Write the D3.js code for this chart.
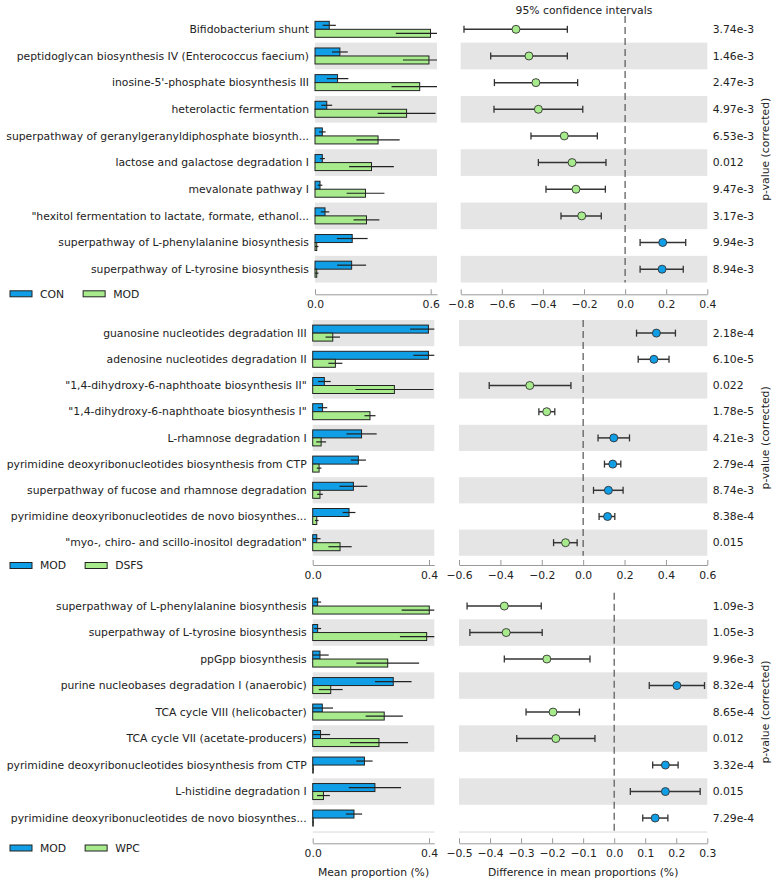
<!DOCTYPE html>
<html><head><meta charset="utf-8">
<script src="https://cdn.jsdelivr.net/npm/d3@7"></script>
<style>
body{margin:0;background:#fff;}
text{font-family:"DejaVu Sans",sans-serif;fill:#222;}
</style></head>
<body><svg id="chart" width="777" height="885"></svg>
<script>
// ---------- DATA ----------
// Panel 1: CON vs MOD
const p1Groups = ["CON", "MOD"];
const p1Pathways = ["Bifidobacterium shunt","peptidoglycan biosynthesis IV (Enterococcus faecium)","inosine-5'-phosphate biosynthesis III","heterolactic fermentation","superpathway of geranylgeranyldiphosphate biosynth...","lactose and galactose degradation I","mevalonate pathway I","\"hexitol fermentation to lactate, formate, ethanol...","superpathway of L-phenylalanine biosynthesis","superpathway of L-tyrosine biosynthesis"];
const p1Mean1 = [0.074,0.129,0.117,0.061,0.038,0.038,0.026,0.052,0.193,0.190];
const p1Sd1   = [0.034,0.041,0.056,0.028,0.017,0.013,0.012,0.022,0.080,0.075];
const p1Mean2 = [0.599,0.591,0.543,0.475,0.327,0.293,0.262,0.267,0.009,0.009];
const p1Sd2   = [0.180,0.135,0.146,0.150,0.112,0.116,0.098,0.067,0.009,0.009];
const p1Diff  = [-0.531,-0.468,-0.434,-0.422,-0.296,-0.258,-0.239,-0.211,0.183,0.180];
const p1CiLow = [-0.784,-0.654,-0.636,-0.638,-0.458,-0.422,-0.385,-0.312,0.073,0.073];
const p1CiHigh= [-0.281,-0.281,-0.231,-0.206,-0.135,-0.093,-0.096,-0.116,0.295,0.283];
const p1PValues = ["3.74e-3","1.46e-3","2.47e-3","4.97e-3","6.53e-3","0.012","9.47e-3","3.17e-3","9.94e-3","8.94e-3"];
const p1MeanTicks = [0.0, 0.6];
const p1DiffTicks = [-0.8,-0.6,-0.4,-0.2,0.0,0.2,0.4];

// Panel 2: MOD vs DSFS
const p2Groups = ["MOD", "DSFS"];
const p2Pathways = ["guanosine nucleotides degradation III","adenosine nucleotides degradation II","\"1,4-dihydroxy-6-naphthoate biosynthesis II\"","\"1,4-dihydroxy-6-naphthoate biosynthesis I\"","L-rhamnose degradation I","pyrimidine deoxyribonucleotides biosynthesis from CTP","superpathway of fucose and rhamnose degradation","pyrimidine deoxyribonucleotides de novo biosynthes...","\"myo-, chiro- and scillo-inositol degradation\""];
const p2Mean1 = [0.398,0.398,0.040,0.034,0.168,0.157,0.140,0.125,0.014];
const p2Sd1   = [0.063,0.052,0.022,0.016,0.052,0.026,0.048,0.022,0.013];
const p2Mean2 = [0.069,0.078,0.281,0.197,0.029,0.022,0.025,0.014,0.094];
const p2Sd2   = [0.025,0.024,0.134,0.019,0.017,0.008,0.010,0.006,0.040];
const p2Diff  = [0.354,0.342,-0.258,-0.176,0.148,0.143,0.122,0.118,-0.085];
const p2CiLow = [0.258,0.266,-0.454,-0.214,0.072,0.103,0.050,0.077,-0.143];
const p2CiHigh= [0.446,0.415,-0.059,-0.137,0.224,0.182,0.193,0.153,-0.029];
const p2PValues = ["2.18e-4","6.10e-5","0.022","1.78e-5","4.21e-3","2.79e-4","8.74e-3","8.38e-4","0.015"];
const p2MeanTicks = [0.0, 0.4];
const p2DiffTicks = [-0.6,-0.4,-0.2,0.0,0.2,0.4,0.6];

// Panel 3: MOD vs WPC
const p3Groups = ["MOD", "WPC"];
const p3Pathways = ["superpathway of L-phenylalanine biosynthesis","superpathway of L-tyrosine biosynthesis","ppGpp biosynthesis","purine nucleobases degradation I (anaerobic)","TCA cycle VIII (helicobacter)","TCA cycle VII (acetate-producers)","pyrimidine deoxyribonucleotides biosynthesis from CTP","L-histidine degradation I","pyrimidine deoxyribonucleotides de novo biosynthes..."];
const p3Mean1 = [0.017,0.017,0.025,0.277,0.033,0.027,0.178,0.214,0.142];
const p3Sd1   = [0.012,0.012,0.030,0.063,0.037,0.033,0.028,0.090,0.028];
const p3Mean2 = [0.401,0.392,0.258,0.062,0.246,0.228,0.002,0.037,0.002];
const p3Sd2   = [0.095,0.092,0.108,0.041,0.064,0.100,0.002,0.022,0.002];
const p3Diff  = [-0.354,-0.348,-0.217,0.202,-0.197,-0.188,0.165,0.165,0.132];
const p3CiLow = [-0.474,-0.465,-0.354,0.113,-0.284,-0.314,0.124,0.052,0.092];
const p3CiHigh= [-0.235,-0.232,-0.078,0.291,-0.112,-0.062,0.206,0.277,0.173];
const p3PValues = ["1.09e-3","1.05e-3","9.96e-3","8.32e-4","8.65e-4","0.012","3.32e-4","0.015","7.29e-4"];
const p3MeanTicks = [0.0, 0.4];
const p3DiffTicks = [-0.5,-0.4,-0.3,-0.2,-0.1,0.0,0.1,0.2,0.3];

const ciTitle = "95% confidence intervals";
const pLabel = "p-value (corrected)";
const meanLabel = "Mean proportion (%)";
const diffLabel = "Difference in mean proportions (%)";

// ---------- STYLE / LAYOUT ----------
const C1 = "#109ee6", C2 = "#a7eb8c", BAND = "#e5e5e5";
const FS = 10.8;
const svg = d3.select("#chart");

const panels = [
  {groups:p1Groups, names:p1Pathways, m1:p1Mean1, s1:p1Sd1, m2:p1Mean2, s2:p1Sd2, d:p1Diff, lo:p1CiLow, hi:p1CiHigh, p:p1PValues, mt:p1MeanTicks, dt:p1DiffTicks,
   top:16, pitch:26.65, axisY:294.3, lx0:315, lTick:430.7, lx1:437, cx0:460.7, cx1:707.3, parity:1, legY:293.8, xTitle:false},
  {groups:p2Groups, names:p2Pathways, m1:p2Mean1, s1:p2Sd1, m2:p2Mean2, s2:p2Sd2, d:p2Diff, lo:p2CiLow, hi:p2CiHigh, p:p2PValues, mt:p2MeanTicks, dt:p2DiffTicks,
   top:320, pitch:26.2, axisY:565, lx0:312.7, lTick:429, lx1:434.3, cx0:459, cx1:707.3, parity:0, legY:565.5, xTitle:false},
  {groups:p3Groups, names:p3Pathways, m1:p3Mean1, s1:p3Sd1, m2:p3Mean2, s2:p3Sd2, d:p3Diff, lo:p3CiLow, hi:p3CiHigh, p:p3PValues, mt:p3MeanTicks, dt:p3DiffTicks,
   top:592.8, pitch:26.5, axisY:843.3, lx0:312.7, lTick:429, lx1:434.3, cx0:459, cx1:707.3, parity:1, legY:848, xTitle:true, bottomLine:true},
];

panels.forEach((P, pi) => {
  const n = P.names.length;
  const g = svg.append("g");
  const y = d3.scaleBand().domain(d3.range(n)).range([P.top, P.top + n*P.pitch]).padding(0);
  const maxTick = P.mt[P.mt.length-1];
  const xl = d3.scaleLinear().domain([0, maxTick]).range([P.lx0, P.lTick]);
  const lMax = xl.invert(P.lx1);
  xl.domain([0, lMax]).range([P.lx0, P.lx1]).clamp(true);
  const xc = d3.scaleLinear().domain([P.dt[0], P.dt[P.dt.length-1]]).range([P.cx0, P.cx1]);

  // bands
  d3.range(n).forEach(i => {
    if (i % 2 === P.parity) {
      g.append("rect").attr("x", P.lx0).attr("y", y(i)).attr("width", P.lx1-P.lx0).attr("height", y.bandwidth()).attr("fill", BAND);
      g.append("rect").attr("x", P.cx0).attr("y", y(i)).attr("width", P.cx1-P.cx0).attr("height", y.bandwidth()).attr("fill", BAND);
    }
  });
  if (P.bottomLine) {
    g.append("rect").attr("x", P.lx0).attr("y", y(n-1)+y.bandwidth()).attr("width", P.lx1-P.lx0).attr("height", 1.5).attr("fill", BAND);
    g.append("rect").attr("x", P.cx0).attr("y", y(n-1)+y.bandwidth()).attr("width", P.cx1-P.cx0).attr("height", 1.5).attr("fill", BAND);
  }

  const bh = 8;
  d3.range(n).forEach(i => {
    const cy = y(i) + y.bandwidth()/2;
    // labels
    g.append("text").attr("x", P.lx0 - 6).attr("y", cy).attr("dy", "0.35em").attr("text-anchor", "end")
      .attr("font-size", FS).text(P.names[i]);
    // bars
    [[P.m1, P.s1, C1, cy-bh], [P.m2, P.s2, C2, cy]].forEach(([m, s, col, by]) => {
      g.append("rect").attr("x", xl(0)).attr("y", by).attr("width", Math.max(0, xl(m[i]) - xl(0))).attr("height", bh)
        .attr("fill", col).attr("stroke", "#222").attr("stroke-width", 1);
      g.append("line").attr("x1", xl(m[i]-s[i])).attr("x2", xl(m[i]+s[i])).attr("y1", by+bh/2).attr("y2", by+bh/2)
        .attr("stroke", "#222").attr("stroke-width", 1.2);
    });
    // p-values
    g.append("text").attr("x", 712.7).attr("y", cy).attr("dy", "0.35em").attr("font-size", FS).text(P.p[i]);
  });

  // dashed zero line
  g.append("line").attr("x1", xc(0)).attr("x2", xc(0)).attr("y1", P.top).attr("y2", P.top + n*P.pitch)
    .attr("stroke", "#555").attr("stroke-width", 1.2).attr("stroke-dasharray", "7,4");

  // CI
  d3.range(n).forEach(i => {
    const cy = y(i) + y.bandwidth()/2;
    const col = P.d[i] >= 0 ? C1 : C2;
    g.append("line").attr("x1", xc(P.lo[i])).attr("x2", xc(P.hi[i])).attr("y1", cy).attr("y2", cy).attr("stroke", "#333").attr("stroke-width", 1.5);
    [P.lo[i], P.hi[i]].forEach(v => g.append("line").attr("x1", xc(v)).attr("x2", xc(v)).attr("y1", cy-3.5).attr("y2", cy+3.5).attr("stroke", "#333").attr("stroke-width", 1.3));
    g.append("circle").attr("cx", xc(P.d[i])).attr("cy", cy).attr("r", 4).attr("fill", col).attr("stroke", "#333").attr("stroke-width", 0.9);
  });

  // axes
  const styleAxis = sel => {
    sel.select(".domain").attr("stroke", "#999").attr("stroke-width", 1);
    sel.selectAll(".tick line").attr("stroke", "#999");
    sel.selectAll(".tick text").attr("font-size", FS).attr("fill", "#222").attr("font-family", "DejaVu Sans");
  };
  const la = g.append("g").attr("transform", `translate(0,${P.axisY})`)
    .call(d3.axisBottom(xl).tickValues(P.mt).tickFormat(d3.format(".1f")).tickSize(-5).tickSizeOuter(0).tickPadding(6));
  styleAxis(la);
  const ca = g.append("g").attr("transform", `translate(0,${P.axisY})`)
    .call(d3.axisBottom(xc).tickValues(P.dt).tickFormat(d3.format(".1f")).tickSize(-5).tickSizeOuter(0).tickPadding(6));
  styleAxis(ca);

  // p-value label
  const midY = P.top + n*P.pitch/2;
  g.append("text").attr("transform", `translate(765,${midY}) rotate(-90)`).attr("text-anchor", "middle").attr("dy", "0.35em")
    .attr("font-size", FS).text(pLabel);

  // legend
  const lg = g.append("g");
  lg.append("rect").attr("x", 10).attr("y", P.legY-3).attr("width", 22).attr("height", 6).attr("fill", C1).attr("stroke", "#222").attr("stroke-width", 1);
  const t1 = lg.append("text").attr("x", 40).attr("y", P.legY).attr("dy", "0.35em").attr("font-size", FS).text(P.groups[0]);
  const x2 = 40 + t1.node().getComputedTextLength() + 19;
  lg.append("rect").attr("x", x2).attr("y", P.legY-3).attr("width", 22).attr("height", 6).attr("fill", C2).attr("stroke", "#222").attr("stroke-width", 1);
  lg.append("text").attr("x", x2 + 30).attr("y", P.legY).attr("dy", "0.35em").attr("font-size", FS).text(P.groups[1]);

  if (pi === 0) {
    svg.append("text").attr("x", (P.cx0+P.cx1)/2).attr("y", 10).attr("dy", "0.35em").attr("text-anchor", "middle").attr("font-size", FS).text(ciTitle);
  }
  if (P.xTitle) {
    svg.append("text").attr("x", (P.lx0+P.lx1)/2).attr("y", 872).attr("dy", "0.35em").attr("text-anchor", "middle").attr("font-size", FS).text(meanLabel);
    svg.append("text").attr("x", (P.cx0+P.cx1)/2).attr("y", 872).attr("dy", "0.35em").attr("text-anchor", "middle").attr("font-size", FS).text(diffLabel);
  }
});
</script></body></html>
